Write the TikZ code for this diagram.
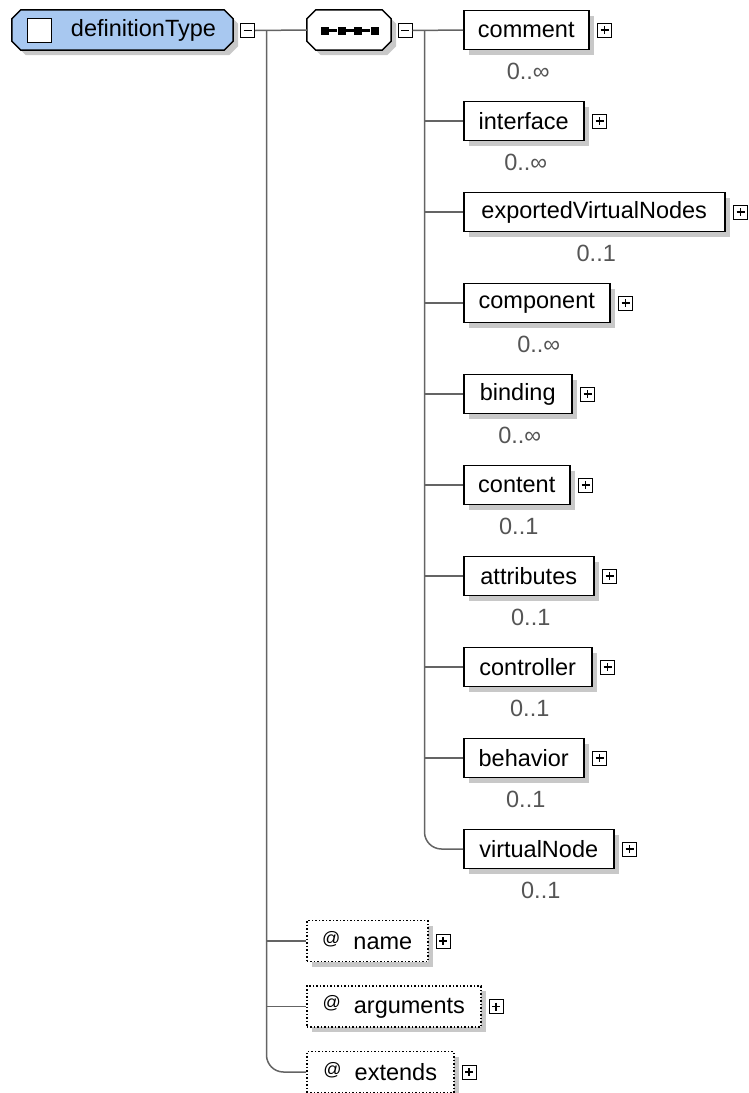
\documentclass[tikz,border=0pt]{standalone}
\usepackage{fontspec}
\setmainfont{Liberation Sans}
\usetikzlibrary{shadows,positioning,backgrounds}
\definecolor{rootblue}{RGB}{168,200,240}
\definecolor{shadowgray}{RGB}{200,200,200}
\definecolor{linegray}{RGB}{100,100,100}
\definecolor{cardgray}{RGB}{85,85,85}

\begin{document}
\begin{tikzpicture}[x=1pt,y=-1pt,
  every node/.style={font=\fontsize{23.5}{28}\selectfont},
  shade/.style={drop shadow={shadow xshift=5pt,shadow yshift=-5pt,opacity=1,fill=shadowgray,draw=none}},
  elem/.style={rectangle,draw=black,line width=1.5pt,fill=white,shade,minimum height=39pt,inner xsep=0pt,anchor=west},
  attr/.style={elem,dotted},
  holder/.style={rectangle,draw=none,inner sep=0pt,minimum height=40pt},
  octo/.style={draw=black,line width=1.5pt,shade},
  pm/.style={rectangle,draw=black,line width=1pt,fill=white,minimum size=14pt,inner sep=0pt},
  minusbox/.style={pm,path picture={\draw[line width=1.4pt]
      ([xshift=3pt]path picture bounding box.west) -- ([xshift=-3pt]path picture bounding box.east);}},
  plusbox/.style={pm,path picture={\draw[line width=1.4pt]
      ([xshift=3pt]path picture bounding box.west) -- ([xshift=-3pt]path picture bounding box.east)
      ([yshift=-3pt]path picture bounding box.north) -- ([yshift=3pt]path picture bounding box.south);}},
  card/.style={text=cardgray,inner sep=0pt},
  conn/.style={draw=linegray,line width=1.5pt},
  dot/.style={rectangle,fill=black,minimum size=8pt,inner sep=0pt}
]
\useasboundingbox (0,0) rectangle (748,1093);

% root complex type
\node[holder,minimum width=221pt] (root) at (122.5,30) {};
\begin{scope}[on background layer]
\path[octo,fill=rootblue]
  ([xshift=9pt]root.north west) -- ([xshift=-9pt]root.north east) -- ([yshift=-9pt]root.north east)
  -- ([yshift=9pt]root.south east) -- ([xshift=-9pt]root.south east) -- ([xshift=9pt]root.south west)
  -- ([yshift=9pt]root.south west) -- ([yshift=-9pt]root.north west) -- cycle;
\end{scope}
\node[rectangle,draw=black,line width=1.5pt,fill=white,minimum size=24pt,inner sep=0pt] (rootcheck) at (39.5,30.5) {};
\node[inner sep=0pt] (roottext) at (143.5,30) {definitionType};
\node[minusbox] (rootminus) at (247.5,30.5) {};

% sequence compositor
\node[holder,minimum width=84pt] (seq) at (349,30) {};
\begin{scope}[on background layer]
\path[octo,fill=white]
  ([xshift=9pt]seq.north west) -- ([xshift=-9pt]seq.north east) -- ([yshift=-9pt]seq.north east)
  -- ([yshift=9pt]seq.south east) -- ([xshift=-9pt]seq.south east) -- ([xshift=9pt]seq.south west)
  -- ([yshift=9pt]seq.south west) -- ([yshift=-9pt]seq.north west) -- cycle;
\end{scope}
\node[dot] (d1) at (325,30.5) {};
\node[dot] (d2) at (341.5,30.5) {};
\node[dot] (d3) at (358,30.5) {};
\node[dot] (d4) at (374.5,30.5) {};
\draw[line width=2.5pt] (d1) -- (d2) -- (d3) -- (d4);
\node[minusbox] (seqminus) at (405,30.5) {};

% child elements
\node[elem,minimum width=125pt] (comment) at (463,30) {comment};
\node[elem,minimum width=120pt] (interface) at (463,121) {interface};
\node[elem,minimum width=261pt] (exported) at (463,212) {exportedVirtualNodes};
\node[elem,minimum width=146pt] (component) at (463,303) {component};
\node[elem,minimum width=108pt] (binding) at (463,394) {binding};
\node[elem,minimum width=106pt] (content) at (463,485) {content};
\node[elem,minimum width=130pt] (attributes) at (463,576) {attributes};
\node[elem,minimum width=128pt] (controller) at (463,667) {controller};
\node[elem,minimum width=120pt] (behavior) at (463,758) {behavior};
\node[elem,minimum width=150pt] (virtualNode) at (463,849) {virtualNode};

\foreach \n/\c in {comment/0..∞, interface/0..∞, exported/0..1, component/0..∞, binding/0..∞,
                   content/0..1, attributes/0..1, controller/0..1, behavior/0..1, virtualNode/0..1} {
  \node[plusbox,right=7.5pt of \n] (\n plus) {};
  \node[card] (\n card) at ([xshift=2pt,yshift=-21pt]\n.south) {\c};
}

% attributes
\node[attr,minimum width=121pt,minimum height=41pt] (name) at (306,941)
  {\raisebox{5pt}{\fontsize{18}{18}\selectfont @}\hspace{13pt}name};
\node[attr,minimum width=174pt,minimum height=41pt] (arguments) at (306,1006.5)
  {\raisebox{5pt}{\fontsize{18}{18}\selectfont @}\hspace{13pt}arguments};
\node[attr,minimum width=147pt,minimum height=41pt] (extends) at (306,1072)
  {\raisebox{5pt}{\fontsize{18}{18}\selectfont @}\hspace{13pt}extends};
\foreach \n in {name,arguments,extends}
  \node[plusbox,right=7pt of \n] (\n plus) {};

% connectors
\coordinate (rootbus) at (266.5,30.5);
\coordinate (seqbus) at (424.5,30.5);
\draw[conn] (rootminus.east) -- (seq.west);
\draw[conn] (rootbus) |- (name.west);
\draw[conn] (rootbus) |- (arguments.west);
\draw[conn,rounded corners=17pt] (rootbus) |- (extends.west);
\draw[conn] (seqminus.east) -- (comment.west);
\foreach \n in {interface,exported,component,binding,content,attributes,controller,behavior}
  \draw[conn] (seqbus) |- (\n.west);
\draw[conn,rounded corners=17pt] (seqbus) |- (virtualNode.west);
\end{tikzpicture}
\end{document}
